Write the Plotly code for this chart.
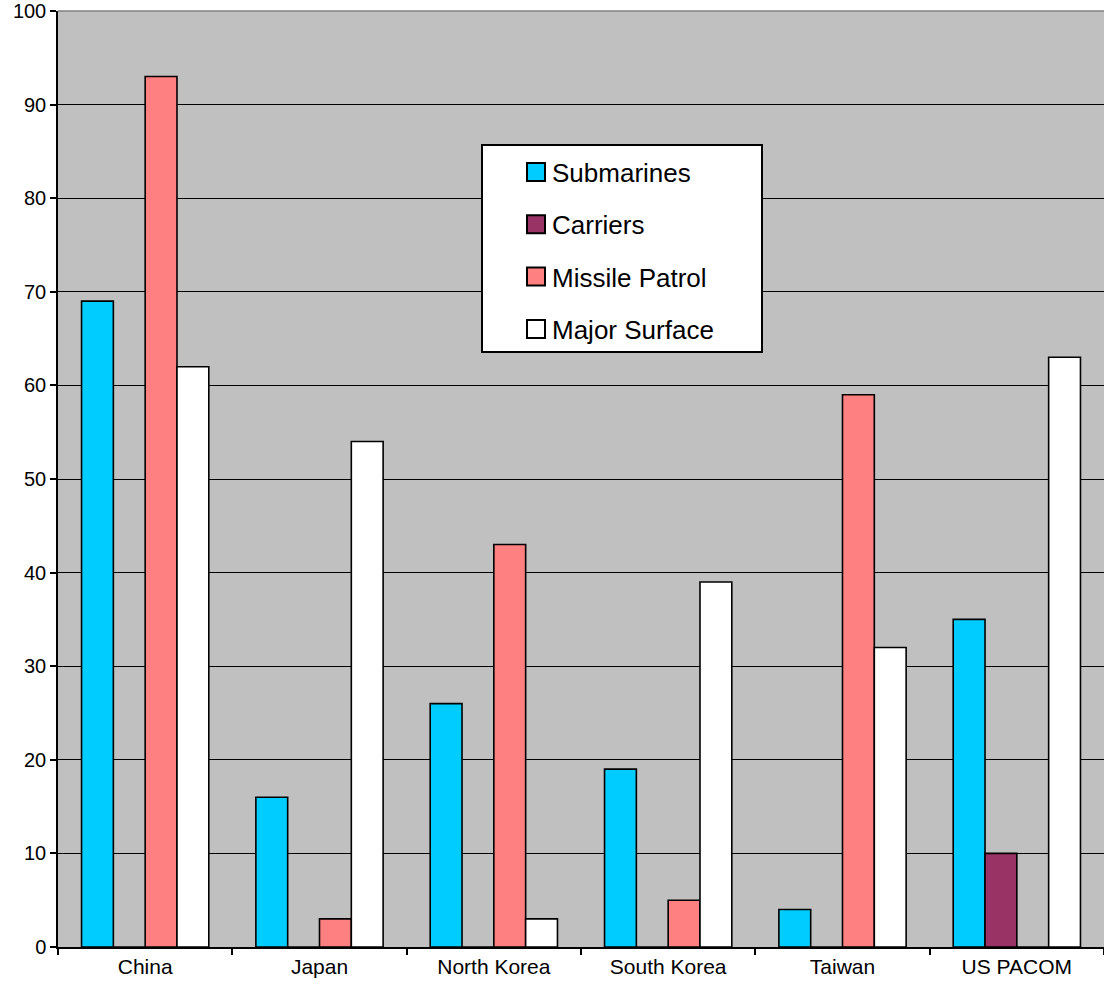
import plotly.graph_objects as go

categories = ["China", "Japan", "North Korea", "South Korea", "Taiwan", "US PACOM"]
submarines = [69, 16, 26, 19, 4, 35]
carriers = [0, 0, 0, 0, 0, 10]
missile_patrol = [93, 3, 43, 5, 59, 0]
major_surface = [62, 54, 3, 39, 32, 63]

series = [
    ("Submarines", submarines, "#00CCFF"),
    ("Carriers", carriers, "#993366"),
    ("Missile Patrol", missile_patrol, "#FF8080"),
    ("Major Surface", major_surface, "#FFFFFF"),
]

W, H = 1104, 994
ML, MR, MT, MB = 58, 0, 11, 47
PW, PH = W - ML - MR, H - MT - MB


def px_x(p):
    return (p - ML) / PW


def px_y(p):
    return (H - MB - p) / PH


fig = go.Figure()
for name, vals, color in series:
    fig.add_trace(go.Bar(
        x=categories, y=vals, name=name, showlegend=False,
        marker=dict(color=color, line=dict(color="black", width=1.6)),
    ))

# Legend box (drawn manually to match the original's larger swatches)
fig.add_shape(type="rect", xref="paper", yref="paper",
              x0=px_x(482), x1=px_x(762), y0=px_y(352), y1=px_y(145),
              fillcolor="white", line=dict(color="black", width=2), layer="above")
for i, (name, vals, color) in enumerate(series):
    cy = 172 + i * 52.3
    fig.add_shape(type="rect", xref="paper", yref="paper",
                  x0=px_x(527), x1=px_x(545), y0=px_y(cy + 9), y1=px_y(cy - 9),
                  fillcolor=color, line=dict(color="black", width=2), layer="above")
    fig.add_annotation(xref="paper", yref="paper", x=px_x(550), y=px_y(cy + 1),
                       text=name, showarrow=False, xanchor="left", yanchor="middle",
                       font=dict(size=26, color="black"))

fig.update_layout(
    width=W, height=H,
    margin=dict(l=ML, r=MR, t=MT, b=MB),
    paper_bgcolor="white",
    plot_bgcolor="#C0C0C0",
    barmode="group",
    bargap=0.27,
    bargroupgap=0,
    showlegend=False,
    font=dict(family="Liberation Sans, Arial, sans-serif", size=20, color="black"),
    xaxis=dict(
        type="category",
        tickson="boundaries",
        ticks="outside", ticklen=6, tickcolor="black", tickwidth=1.5,
        showline=True, linecolor="black", linewidth=1.5,
        showgrid=False,
        tickfont=dict(size=21),
    ),
    yaxis=dict(
        range=[0, 100], dtick=10,
        ticks="outside", ticklen=6, tickcolor="black", tickwidth=1.5,
        showline=True, linecolor="black", linewidth=1.5,
        showgrid=True, gridcolor="black", gridwidth=1.2,
        zeroline=False,
        tickfont=dict(size=20),
    ),
)
fig.add_shape(type="line", xref="paper", yref="paper", x0=0, x1=1, y0=1, y1=1,
              line=dict(color="#808080", width=1.5))

fig.write_html("out.html", config={"displayModeBar": False},
               post_script="document.body.style.margin='0';")
